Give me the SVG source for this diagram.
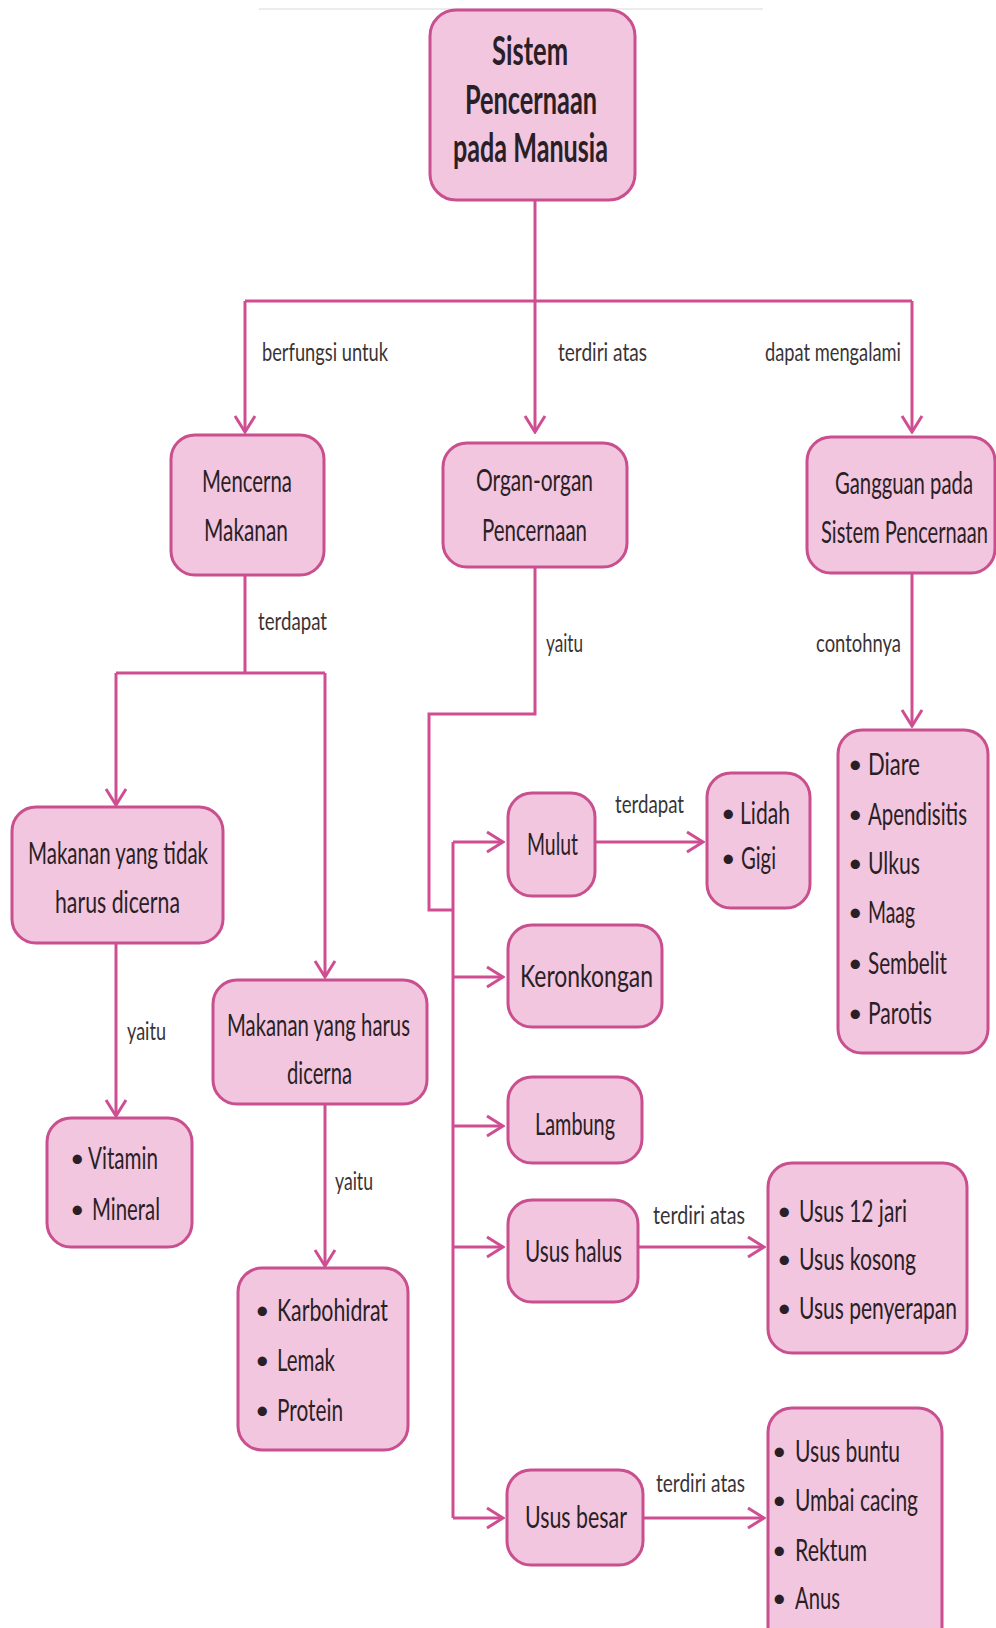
<svg xmlns="http://www.w3.org/2000/svg" width="996" height="1628" viewBox="0 0 996 1628">
<defs>
<style>
.box{fill:#f2c6de;stroke:#c94f8f;stroke-width:3}
.t{font-family:Lato,"Liberation Sans",sans-serif;font-size:31px;fill:#2a1f26}
.bu{font-family:Lato,"Liberation Sans",sans-serif;font-size:25px;fill:#2a1f26}
.tb{font-family:Lato,"Liberation Sans",sans-serif;font-size:40px;font-weight:bold;fill:#2a1f26}
.lb{font-family:Lato,"Liberation Sans",sans-serif;font-size:25px;fill:#3a3336}
.c{fill:none;stroke:#cf4e92;stroke-width:3}
.a{marker-end:url(#arr)}
</style>
<marker id="arr" viewBox="-20 -12 22 24" refX="0" refY="0" markerWidth="22" markerHeight="24" orient="auto" markerUnits="userSpaceOnUse">
<path d="M-16,-10 L0,0 L-16,10" fill="none" stroke="#cf4e92" stroke-width="3"/>
</marker>
</defs>
<rect width="996" height="1628" fill="#ffffff"/>
<line x1="259" y1="9" x2="763" y2="9" stroke="#ececec" stroke-width="2"/>

<g id="connectors">
<path class="c" d="M535,200 V301"/>
<path class="c" d="M245,301 H912"/>
<path class="c a" d="M245,301 V432"/>
<path class="c a" d="M535,301 V432"/>
<path class="c a" d="M912,301 V432"/>
<path class="c" d="M245,575 V673 M116,673 H325"/>
<path class="c a" d="M116,673 V805"/>
<path class="c a" d="M325,673 V977"/>
<path class="c a" d="M116,943 V1116"/>
<path class="c a" d="M325,1104 V1266"/>
<path class="c" d="M535,567 V714 H429 V910 H453 M453,842 V1518"/>
<path class="c a" d="M453,842 H503"/>
<path class="c a" d="M453,977 H503"/>
<path class="c a" d="M453,1126 H503"/>
<path class="c a" d="M453,1247 H503"/>
<path class="c a" d="M453,1518 H503"/>
<path class="c a" d="M595,842 H703"/>
<path class="c a" d="M638,1247 H764"/>
<path class="c a" d="M643,1518 H764"/>
<path class="c a" d="M912,573 V726"/>
<text class="lb" x="262" y="361" textLength="126" lengthAdjust="spacingAndGlyphs">berfungsi untuk</text>
<text class="lb" x="558" y="361" textLength="89" lengthAdjust="spacingAndGlyphs">terdiri atas</text>
<text class="lb" x="765" y="361" textLength="136" lengthAdjust="spacingAndGlyphs">dapat mengalami</text>
<text class="lb" x="258" y="630" textLength="69" lengthAdjust="spacingAndGlyphs">terdapat</text>
<text class="lb" x="546" y="652" textLength="37" lengthAdjust="spacingAndGlyphs">yaitu</text>
<text class="lb" x="816" y="652" textLength="85" lengthAdjust="spacingAndGlyphs">contohnya</text>
<text class="lb" x="127" y="1040" textLength="39" lengthAdjust="spacingAndGlyphs">yaitu</text>
<text class="lb" x="335" y="1190" textLength="38" lengthAdjust="spacingAndGlyphs">yaitu</text>
<text class="lb" x="615" y="813" textLength="69" lengthAdjust="spacingAndGlyphs">terdapat</text>
<text class="lb" x="653" y="1224" textLength="92" lengthAdjust="spacingAndGlyphs">terdiri atas</text>
<text class="lb" x="656" y="1492" textLength="89" lengthAdjust="spacingAndGlyphs">terdiri atas</text>
</g>

<g id="sistem">
<rect class="box" x="430" y="10" width="205" height="190" rx="26"/>
<text class="tb" x="492" y="65" textLength="76" lengthAdjust="spacingAndGlyphs">Sistem</text>
<text class="tb" x="465" y="114" textLength="132" lengthAdjust="spacingAndGlyphs">Pencernaan</text>
<text class="tb" x="453" y="162" textLength="155" lengthAdjust="spacingAndGlyphs">pada Manusia</text>
</g>

<g id="mencerna">
<rect class="box" x="171" y="435" width="153" height="140" rx="24"/>
<text class="t" x="202" y="492" textLength="90" lengthAdjust="spacingAndGlyphs">Mencerna</text>
<text class="t" x="204" y="541" textLength="84" lengthAdjust="spacingAndGlyphs">Makanan</text>
</g>

<g id="organ">
<rect class="box" x="443" y="443" width="184" height="124" rx="24"/>
<text class="t" x="476" y="491" textLength="117" lengthAdjust="spacingAndGlyphs">Organ-organ</text>
<text class="t" x="482" y="541" textLength="105" lengthAdjust="spacingAndGlyphs">Pencernaan</text>
</g>

<g id="gangguan">
<rect class="box" x="807" y="437" width="188" height="136" rx="24"/>
<text class="t" x="835" y="494" textLength="138" lengthAdjust="spacingAndGlyphs">Gangguan pada</text>
<text class="t" x="821" y="543" textLength="167" lengthAdjust="spacingAndGlyphs">Sistem Pencernaan</text>
</g>

<g id="tidak-dicerna">
<rect class="box" x="12" y="807" width="211" height="136" rx="24"/>
<text class="t" x="28" y="864" textLength="180" lengthAdjust="spacingAndGlyphs">Makanan yang tidak</text>
<text class="t" x="55" y="913" textLength="125" lengthAdjust="spacingAndGlyphs">harus dicerna</text>
</g>

<g id="harus-dicerna">
<rect class="box" x="213" y="980" width="214" height="124" rx="24"/>
<text class="t" x="227" y="1036" textLength="183" lengthAdjust="spacingAndGlyphs">Makanan yang harus</text>
<text class="t" x="287" y="1084" textLength="65" lengthAdjust="spacingAndGlyphs">dicerna</text>
</g>

<g id="vitamin">
<rect class="box" x="47" y="1118" width="145" height="129" rx="24"/>
<text class="bu" x="70" y="1167">•</text>
<text class="t" x="88" y="1169" textLength="70" lengthAdjust="spacingAndGlyphs">Vitamin</text>
<text class="bu" x="70" y="1218">•</text>
<text class="t" x="92" y="1220" textLength="68" lengthAdjust="spacingAndGlyphs">Mineral</text>
</g>

<g id="karbohidrat">
<rect class="box" x="238" y="1268" width="170" height="182" rx="24"/>
<text class="bu" x="255" y="1319">•</text>
<text class="t" x="277" y="1321" textLength="111" lengthAdjust="spacingAndGlyphs">Karbohidrat</text>
<text class="bu" x="255" y="1369">•</text>
<text class="t" x="277" y="1371" textLength="58" lengthAdjust="spacingAndGlyphs">Lemak</text>
<text class="bu" x="255" y="1419">•</text>
<text class="t" x="277" y="1421" textLength="66" lengthAdjust="spacingAndGlyphs">Protein</text>
</g>

<g id="mulut">
<rect class="box" x="508" y="793" width="87" height="103" rx="24"/>
<text class="t" x="527" y="855" textLength="51" lengthAdjust="spacingAndGlyphs">Mulut</text>
</g>

<g id="lidah">
<rect class="box" x="707" y="773" width="103" height="135" rx="24"/>
<text class="bu" x="721" y="822">•</text>
<text class="t" x="740" y="824" textLength="50" lengthAdjust="spacingAndGlyphs">Lidah</text>
<text class="bu" x="721" y="867">•</text>
<text class="t" x="741" y="869" textLength="35" lengthAdjust="spacingAndGlyphs">Gigi</text>
</g>

<g id="keronkongan">
<rect class="box" x="508" y="925" width="154" height="102" rx="24"/>
<text class="t" x="520" y="987" textLength="133" lengthAdjust="spacingAndGlyphs">Keronkongan</text>
</g>

<g id="lambung">
<rect class="box" x="508" y="1077" width="134" height="86" rx="24"/>
<text class="t" x="535" y="1135" textLength="80" lengthAdjust="spacingAndGlyphs">Lambung</text>
</g>

<g id="usus-halus">
<rect class="box" x="508" y="1200" width="130" height="102" rx="24"/>
<text class="t" x="525" y="1262" textLength="97" lengthAdjust="spacingAndGlyphs">Usus halus</text>
</g>

<g id="usus-halus-list">
<rect class="box" x="768" y="1163" width="199" height="190" rx="24"/>
<text class="bu" x="777" y="1220">•</text>
<text class="t" x="799" y="1222" textLength="108" lengthAdjust="spacingAndGlyphs">Usus 12 jari</text>
<text class="bu" x="777" y="1268">•</text>
<text class="t" x="799" y="1270" textLength="117" lengthAdjust="spacingAndGlyphs">Usus kosong</text>
<text class="bu" x="777" y="1317">•</text>
<text class="t" x="799" y="1319" textLength="158" lengthAdjust="spacingAndGlyphs">Usus penyerapan</text>
</g>

<g id="usus-besar">
<rect class="box" x="507" y="1470" width="136" height="95" rx="24"/>
<text class="t" x="525" y="1528" textLength="102" lengthAdjust="spacingAndGlyphs">Usus besar</text>
</g>

<g id="usus-besar-list">
<rect class="box" x="768" y="1408" width="174" height="250" rx="24"/>
<text class="bu" x="772" y="1460">•</text>
<text class="t" x="795" y="1462" textLength="105" lengthAdjust="spacingAndGlyphs">Usus buntu</text>
<text class="bu" x="772" y="1509">•</text>
<text class="t" x="795" y="1511" textLength="123" lengthAdjust="spacingAndGlyphs">Umbai cacing</text>
<text class="bu" x="772" y="1559">•</text>
<text class="t" x="795" y="1561" textLength="72" lengthAdjust="spacingAndGlyphs">Rektum</text>
<text class="bu" x="772" y="1607">•</text>
<text class="t" x="795" y="1609" textLength="45" lengthAdjust="spacingAndGlyphs">Anus</text>
</g>

<g id="gangguan-list">
<rect class="box" x="838" y="730" width="150" height="323" rx="24"/>
<text class="bu" x="848" y="773">•</text>
<text class="t" x="868" y="775" textLength="52" lengthAdjust="spacingAndGlyphs">Diare</text>
<text class="bu" x="848" y="823">•</text>
<text class="t" x="868" y="825" textLength="99" lengthAdjust="spacingAndGlyphs">Apendisitis</text>
<text class="bu" x="848" y="872">•</text>
<text class="t" x="868" y="874" textLength="52" lengthAdjust="spacingAndGlyphs">Ulkus</text>
<text class="bu" x="848" y="921">•</text>
<text class="t" x="868" y="923" textLength="47" lengthAdjust="spacingAndGlyphs">Maag</text>
<text class="bu" x="848" y="972">•</text>
<text class="t" x="868" y="974" textLength="79" lengthAdjust="spacingAndGlyphs">Sembelit</text>
<text class="bu" x="848" y="1022">•</text>
<text class="t" x="868" y="1024" textLength="64" lengthAdjust="spacingAndGlyphs">Parotis</text>
</g>
</svg>
